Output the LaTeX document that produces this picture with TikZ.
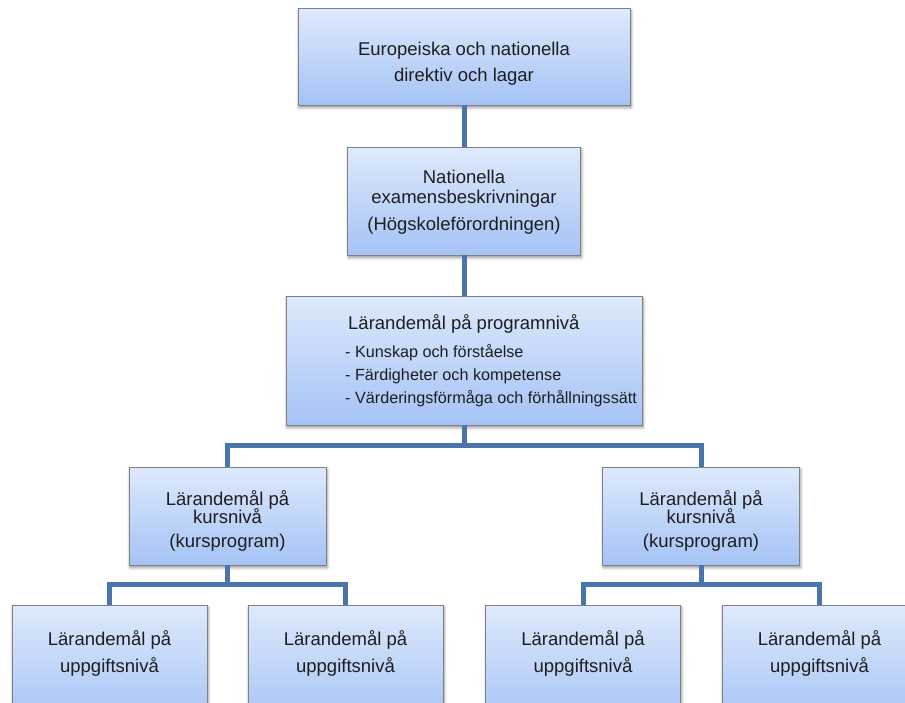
\documentclass[tikz,border=0pt]{standalone}
\usepackage{fontspec}
\setmainfont{Liberation Sans}
\usetikzlibrary{shadows.blur}
\definecolor{boxtop}{RGB}{222,233,252}
\definecolor{boxbot}{RGB}{164,195,245}
\definecolor{boxedge}{RGB}{128,128,128}
\definecolor{linkcol}{RGB}{74,117,172}
\definecolor{txt}{RGB}{30,30,30}
\newcommand\tstrut{\rule{0pt}{17.6pt}}
\newcommand\bstrut{\rule[-4.6pt]{0pt}{4.6pt}}
\begin{document}
\begin{tikzpicture}[x=1pt,y=-1pt,
  box/.style={draw=boxedge, line width=0.9pt, top color=boxtop, bottom color=boxbot,
    inner sep=0pt,
    blur shadow={shadow xshift=1pt, shadow yshift=-2.5pt, shadow blur radius=3pt, shadow opacity=45}},
  lbl/.style={text=txt, inner sep=0pt, align=center},
  link/.style={draw=linkcol, line width=5pt}]
\useasboundingbox (0,0) rectangle (905,702);
\clip (0,0) rectangle (905,702);

% boxes
\node[box, minimum width=332, minimum height=97] (b1) at (464,56.5) {};
\node[box, minimum width=233, minimum height=108] (b2) at (464,201) {};
\node[box, minimum width=356, minimum height=129] (b3) at (464,360.5) {};
\node[box, minimum width=197, minimum height=98] (k1) at (227.5,516) {};
\node[box, minimum width=197, minimum height=98] (k2) at (701,516) {};
\node[box, minimum width=195, minimum height=120] (l1) at (109.5,665) {};
\node[box, minimum width=195, minimum height=120] (l2) at (345.5,665) {};
\node[box, minimum width=195, minimum height=120] (l3) at (583,665) {};
\node[box, minimum width=195, minimum height=120] (l4) at (819.5,665) {};

% connectors
\draw[link] (b1.south) -- (b2.north);
\draw[link] (b2.south) -- (b3.north);
\draw[link] (b3.south) -- ++(0,20) coordinate (j1);
\draw[link] (k1.north) |- (j1) -| (k2.north);
\draw[link] (k1.south) -- ++(0,19) coordinate (j2);
\draw[link] (l1.north) |- (j2) -| (l2.north);
\draw[link] (k2.south) -- ++(0,19) coordinate (j3);
\draw[link] (l3.north) |- (j3) -| (l4.north);

% texts
\node[lbl, font={\fontsize{18.5}{26}\selectfont\lineskiplimit=-50pt}] (t1) at (464,61.5)
  {\tstrut Europeiska och nationella\\direktiv och lagar\bstrut};
\node[lbl, font={\fontsize{18.5}{20}\selectfont\lineskiplimit=-50pt}] (t2) at (464,200)
  {\tstrut Nationella\\examensbeskrivningar\\[7pt](Högskoleförordningen)\bstrut};
\node[lbl, align=left, anchor=west, font={\fontsize{16.2}{23}\selectfont\lineskiplimit=-50pt}] (t3) at (345,359.5)
  {{\fontsize{18.5}{23}\selectfont\hspace*{3pt}\tstrut Lärandemål på programnivå}\\[5pt]
   - Kunskap och förståelse\\
   - Färdigheter och kompetense\\
   - Värderingsförmåga och förhållningssätt\bstrut};
\node[lbl, font={\fontsize{18.5}{18}\selectfont\lineskiplimit=-50pt}] (tk1) at (227.5,519.5)
  {\tstrut Lärandemål på\\kursnivå\\[6pt](kursprogram)\bstrut};
\node[lbl, font={\fontsize{18.5}{18}\selectfont\lineskiplimit=-50pt}] (tk2) at (701,519.5)
  {\tstrut Lärandemål på\\kursnivå\\[6pt](kursprogram)\bstrut};
\node[lbl, font={\fontsize{18.5}{27}\selectfont\lineskiplimit=-50pt}] (tl1) at (109.5,652)
  {\tstrut Lärandemål på\\uppgiftsnivå\bstrut};
\node[lbl, font={\fontsize{18.5}{27}\selectfont\lineskiplimit=-50pt}] (tl2) at (345.5,652)
  {\tstrut Lärandemål på\\uppgiftsnivå\bstrut};
\node[lbl, font={\fontsize{18.5}{27}\selectfont\lineskiplimit=-50pt}] (tl3) at (583,652)
  {\tstrut Lärandemål på\\uppgiftsnivå\bstrut};
\node[lbl, font={\fontsize{18.5}{27}\selectfont\lineskiplimit=-50pt}] (tl4) at (819.5,652)
  {\tstrut Lärandemål på\\uppgiftsnivå\bstrut};
\end{tikzpicture}
\end{document}
